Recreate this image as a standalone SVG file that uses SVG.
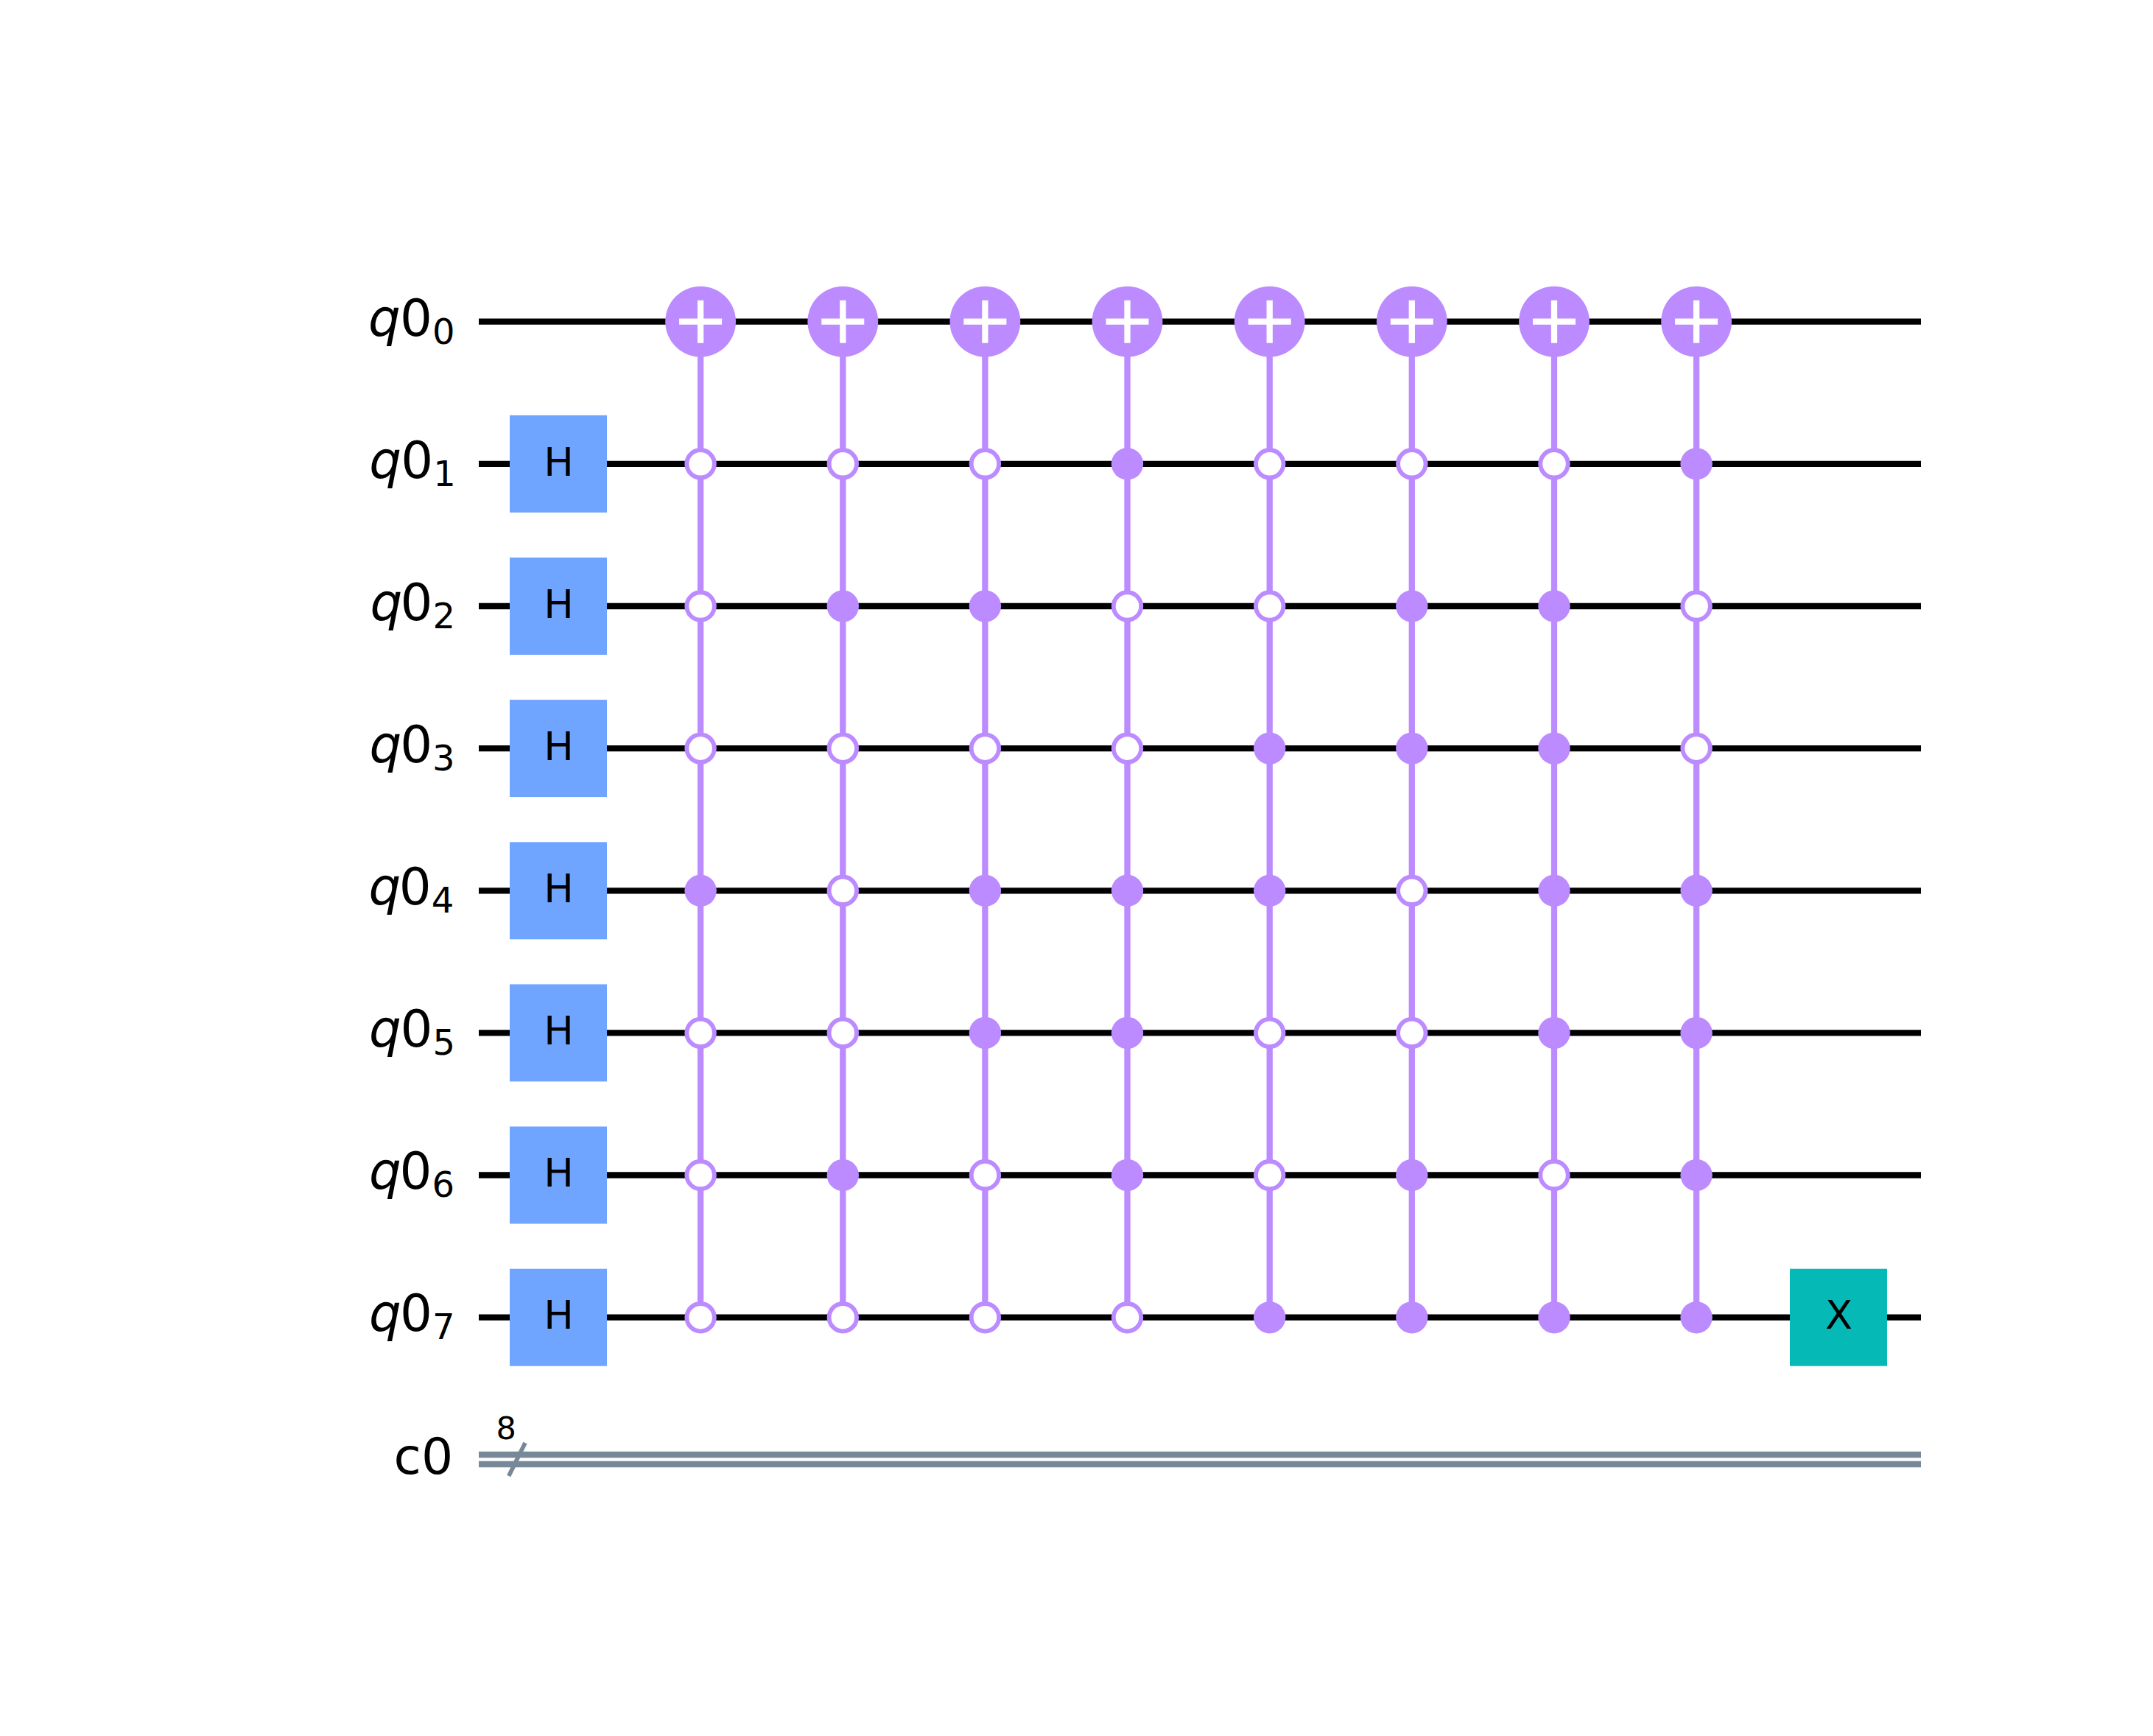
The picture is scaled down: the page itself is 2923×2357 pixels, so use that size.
<svg xmlns="http://www.w3.org/2000/svg" width="2923" height="2357" viewBox="0 0 2923 2357">
<style>
text{font-family:"DejaVu Sans",sans-serif;fill:#000}
.lab{font-size:69px}
.cl{font-size:68px}
.i{font-style:italic}
.s{font-size:48px}
.n{font-size:43px;text-anchor:middle}
.gt{font-size:54px;text-anchor:middle}
.w{stroke:#000;stroke-width:8.3;fill:none}
.c{stroke:#778899;stroke-width:8.3;fill:none}
.v{stroke:#BB8BFF;stroke-width:8.3;fill:none}
.h{fill:#6FA4FF}
.x{fill:#05BAB6}
.t{fill:#BB8BFF}
.p{stroke:#fff;stroke-width:8.3;fill:none}
.on{fill:#BB8BFF}
.off{fill:#fff;stroke:#BB8BFF;stroke-width:5.9}
</style>
<defs>
<circle id="o" r="18.75" class="off"/>
<circle id="f" r="21.7" class="on"/>
<g id="tg"><circle r="47.9" class="t"/><path class="p" d="M-29 0H29M0 -29V29"/></g>
</defs>
<rect width="2923" height="2357" fill="#fff"/>
<g id="connectors">
<path class="w" d="M650 436.7H2608M650 629.8H2608M650 823H2608M650 1016.1H2608M650 1209.3H2608M650 1402.4H2608M650 1595.5H2608M650 1788.7H2608"/>
<path class="c" d="M650 1975H2608M650 1988H2608"/>
<path d="M713 1959L690.7 2004" stroke="#778899" stroke-width="5.8" fill="none"/>
<path class="v" d="M951.1 436.7V1788.7M1144.3 436.7V1788.7M1337.4 436.7V1788.7M1530.5 436.7V1788.7M1723.7 436.7V1788.7M1916.8 436.7V1788.7M2110 436.7V1788.7M2303.1 436.7V1788.7"/>
</g>
<g id="labels">
<text class="lab" y="456"><tspan class="i" x="500">q</tspan><tspan x="543">0</tspan><tspan class="s" x="586.9" dy="11">0</tspan></text>
<text class="lab" y="649"><tspan class="i" x="501.3">q</tspan><tspan x="544.3">0</tspan><tspan class="s" x="588.2" dy="11">1</tspan></text>
<text class="lab" y="842"><tspan class="i" x="502.5">q</tspan><tspan x="543.5">0</tspan><tspan class="s" x="587.4" dy="11">2</tspan></text>
<text class="lab" y="1035"><tspan class="i" x="501.5">q</tspan><tspan x="543.2">0</tspan><tspan class="s" x="587" dy="11">3</tspan></text>
<text class="lab" y="1228"><tspan class="i" x="500.5">q</tspan><tspan x="541.8">0</tspan><tspan class="s" x="585.7" dy="11">4</tspan></text>
<text class="lab" y="1421"><tspan class="i" x="501">q</tspan><tspan x="543.5">0</tspan><tspan class="s" x="587.4" dy="11">5</tspan></text>
<text class="lab" y="1614"><tspan class="i" x="501">q</tspan><tspan x="542.5">0</tspan><tspan class="s" x="586.4" dy="11">6</tspan></text>
<text class="lab" y="1807"><tspan class="i" x="501">q</tspan><tspan x="543.1">0</tspan><tspan class="s" x="587" dy="11">7</tspan></text>
<text class="cl" x="534.5" y="2001">c0</text>
<text class="n" x="687.3" y="1953.5">8</text>
</g>
<g id="h1"><rect class="h" x="692" y="563.8" width="132" height="132"/><text class="gt" x="758.5" y="646">H</text></g>
<g id="h2"><rect class="h" x="692" y="757" width="132" height="132"/><text class="gt" x="758.5" y="839">H</text></g>
<g id="h3"><rect class="h" x="692" y="950.1" width="132" height="132"/><text class="gt" x="758.5" y="1032">H</text></g>
<g id="h4"><rect class="h" x="692" y="1143.3" width="132" height="132"/><text class="gt" x="758.5" y="1225">H</text></g>
<g id="h5"><rect class="h" x="692" y="1336.4" width="132" height="132"/><text class="gt" x="758.5" y="1418">H</text></g>
<g id="h6"><rect class="h" x="692" y="1529.5" width="132" height="132"/><text class="gt" x="758.5" y="1611">H</text></g>
<g id="h7"><rect class="h" x="692" y="1722.7" width="132" height="132"/><text class="gt" x="758.5" y="1804">H</text></g>
<g id="x7"><rect class="x" x="2430" y="1722.7" width="132" height="132"/><text class="gt" x="2496.5" y="1804">X</text></g>
<g id="col1" transform="translate(951.1 0)">
<use href="#tg" y="436.7"/><use href="#o" y="629.8"/><use href="#o" y="823"/><use href="#o" y="1016.1"/><use href="#f" y="1209.3"/><use href="#o" y="1402.4"/><use href="#o" y="1595.5"/><use href="#o" y="1788.7"/>
</g>
<g id="col2" transform="translate(1144.3 0)">
<use href="#tg" y="436.7"/><use href="#o" y="629.8"/><use href="#f" y="823"/><use href="#o" y="1016.1"/><use href="#o" y="1209.3"/><use href="#o" y="1402.4"/><use href="#f" y="1595.5"/><use href="#o" y="1788.7"/>
</g>
<g id="col3" transform="translate(1337.4 0)">
<use href="#tg" y="436.7"/><use href="#o" y="629.8"/><use href="#f" y="823"/><use href="#o" y="1016.1"/><use href="#f" y="1209.3"/><use href="#f" y="1402.4"/><use href="#o" y="1595.5"/><use href="#o" y="1788.7"/>
</g>
<g id="col4" transform="translate(1530.5 0)">
<use href="#tg" y="436.7"/><use href="#f" y="629.8"/><use href="#o" y="823"/><use href="#o" y="1016.1"/><use href="#f" y="1209.3"/><use href="#f" y="1402.4"/><use href="#f" y="1595.5"/><use href="#o" y="1788.7"/>
</g>
<g id="col5" transform="translate(1723.7 0)">
<use href="#tg" y="436.7"/><use href="#o" y="629.8"/><use href="#o" y="823"/><use href="#f" y="1016.1"/><use href="#f" y="1209.3"/><use href="#o" y="1402.4"/><use href="#o" y="1595.5"/><use href="#f" y="1788.7"/>
</g>
<g id="col6" transform="translate(1916.8 0)">
<use href="#tg" y="436.7"/><use href="#o" y="629.8"/><use href="#f" y="823"/><use href="#f" y="1016.1"/><use href="#o" y="1209.3"/><use href="#o" y="1402.4"/><use href="#f" y="1595.5"/><use href="#f" y="1788.7"/>
</g>
<g id="col7" transform="translate(2110 0)">
<use href="#tg" y="436.7"/><use href="#o" y="629.8"/><use href="#f" y="823"/><use href="#f" y="1016.1"/><use href="#f" y="1209.3"/><use href="#f" y="1402.4"/><use href="#o" y="1595.5"/><use href="#f" y="1788.7"/>
</g>
<g id="col8" transform="translate(2303.1 0)">
<use href="#tg" y="436.7"/><use href="#f" y="629.8"/><use href="#o" y="823"/><use href="#o" y="1016.1"/><use href="#f" y="1209.3"/><use href="#f" y="1402.4"/><use href="#f" y="1595.5"/><use href="#f" y="1788.7"/>
</g>
</svg>
